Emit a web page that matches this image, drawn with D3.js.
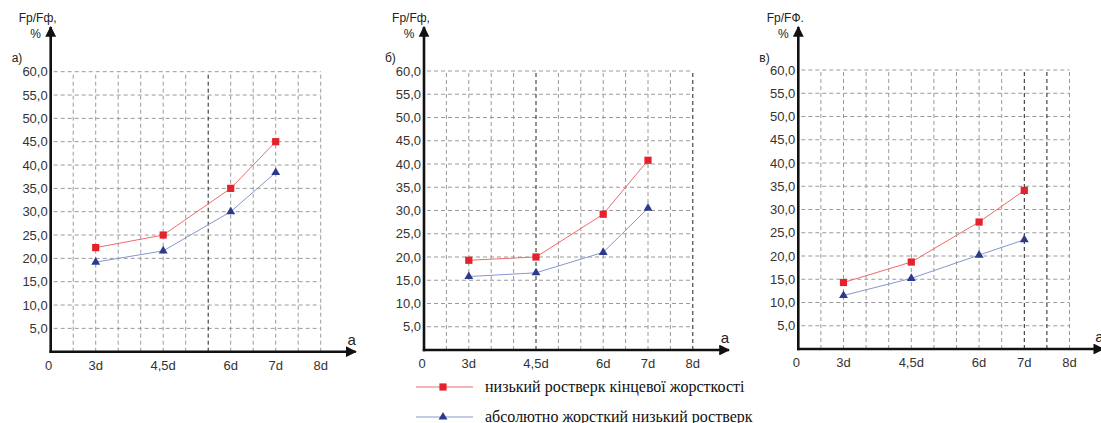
<!DOCTYPE html>
<html><head><meta charset="utf-8">
<script src="https://cdn.jsdelivr.net/npm/d3@7"></script>
<style>
html,body{margin:0;padding:0;background:#fff;}
svg{display:block;}
</style></head>
<body>
<svg id="chart" width="1101" height="423"></svg>
<script>
// ---- data ----
const xCategories = [3, 4.5, 6, 7];
const xTickValues = [2, 3, 4.5, 6, 7, 8];
const xTickLabels = ["0", "3d", "4,5d", "6d", "7d", "8d"];
const yTickValues = [5, 10, 15, 20, 25, 30, 35, 40, 45, 50, 55, 60];
const panelLetters = ["а)", "б)", "в)"];
const yTitles = ["Fp/Fф,", "Fp/Fф,", "Fp/FФ."];
const redA = [22.3, 25.0, 35.0, 45.0];
const blueA = [19.2, 21.6, 30.0, 38.4];
const redB = [19.3, 20.0, 29.2, 40.8];
const blueB = [15.8, 16.6, 21.0, 30.5];
const redC = [14.3, 18.7, 27.3, 34.1];
const blueC = [11.5, 15.2, 20.2, 23.5];
const seriesNames = ["низький ростверк кінцевої жорсткості", "абсолютно жорсткий низький ростверк"];
const darkGridA = [5.5];
const darkGridB = [4.5, 8];
const darkGridC = [7, 7.5];

// ---- layout ----
const panels = [
  {ax: 50.7, y0: 351.7, yTop: 71.7, cw: 22.5, red: redA, blue: blueA, dark: darkGridA, letter: panelLetters[0], title: yTitles[0]},
  {ax: 424, y0: 350, yTop: 71, cw: 22.4, red: redB, blue: blueB, dark: darkGridB, letter: panelLetters[1], title: yTitles[1]},
  {ax: 798.3, y0: 349, yTop: 70, cw: 22.6, red: redC, blue: blueC, dark: darkGridC, letter: panelLetters[2], title: yTitles[2]}
];
const RED_LINE = "#f26a6a", RED_MARK = "#e3222b";
const BLUE_LINE = "#8797cc", BLUE_MARK = "#2b3a8c";
const svg = d3.select("#chart");
const defs = svg.append("defs");
defs.append("marker").attr("id","arr").attr("viewBox","0 0 10 10").attr("refX",9).attr("refY",5)
  .attr("markerWidth",4.2).attr("markerHeight",4.2).attr("markerUnits","strokeWidth").attr("orient","auto")
  .append("path").attr("d","M0,0 L10,5 L0,10 z").attr("fill","#111");

const gridVals = d3.range(2.5, 8.01, 0.5);

panels.forEach(p => {
  const x = d3.scaleLinear().domain([2, 8]).range([p.ax, p.ax + 12 * p.cw]);
  const y = d3.scaleLinear().domain([0, 60]).range([p.y0, p.yTop]);
  const g = svg.append("g");

  // grid
  g.append("g").selectAll("line.h").data(yTickValues).join("line")
    .attr("x1", p.ax + 3).attr("x2", x(8)).attr("y1", d => y(d)).attr("y2", d => y(d))
    .attr("stroke", "#9a9a9a").attr("stroke-width", 1).attr("stroke-dasharray", "4,3");
  g.append("g").selectAll("line.v").data(gridVals).join("line")
    .attr("x1", d => x(d)).attr("x2", d => x(d)).attr("y1", p.y0).attr("y2", y(60))
    .attr("stroke", d => p.dark.includes(d) ? "#222" : "#9a9a9a")
    .attr("stroke-width", 1).attr("stroke-dasharray", "4,3");

  // axes with arrows
  g.append("line").attr("x1", p.ax).attr("x2", p.ax).attr("y1", p.y0 + 1.2).attr("y2", 27)
    .attr("stroke", "#111").attr("stroke-width", 2.6).attr("marker-end", "url(#arr)");
  g.append("line").attr("x1", p.ax - 1.2).attr("x2", p.ax + 305).attr("y1", p.y0).attr("y2", p.y0)
    .attr("stroke", "#111").attr("stroke-width", 2.6).attr("marker-end", "url(#arr)");

  // y tick labels
  g.append("g").selectAll("text").data(yTickValues).join("text")
    .attr("x", p.ax - 3).attr("y", d => y(d) + 4.5).attr("text-anchor", "end")
    .attr("font-family", "Liberation Sans, Arial, sans-serif").attr("font-size", 13).attr("fill", "#333")
    .text(d => d3.format(".1f")(d).replace(".", ","));
  // x tick labels
  g.append("g").selectAll("text").data(xTickValues).join("text")
    .attr("x", (d, i) => i === 0 ? x(d) - 2 : x(d)).attr("y", p.y0 + 18).attr("text-anchor", "middle")
    .attr("font-family", "Liberation Sans, Arial, sans-serif").attr("font-size", 13).attr("fill", "#333")
    .text((d, i) => xTickLabels[i]);

  // titles
  g.append("text").attr("x", p.ax - 13).attr("y", 22).attr("text-anchor", "middle")
    .attr("font-family", "Liberation Sans, Arial, sans-serif").attr("font-size", 12).attr("fill", "#222").text(p.title);
  g.append("text").attr("x", p.ax - 15).attr("y", 38).attr("text-anchor", "middle")
    .attr("font-family", "Liberation Sans, Arial, sans-serif").attr("font-size", 12).attr("fill", "#222").text("%");
  g.append("text").attr("x", p.ax - 39).attr("y", 62)
    .attr("font-family", "Liberation Sans, Arial, sans-serif").attr("font-size", 12).attr("fill", "#222").text(p.letter);
  g.append("text").attr("x", p.ax + 301).attr("y", p.y0 - 7).attr("text-anchor", "middle")
    .attr("font-family", "Liberation Sans, Arial, sans-serif").attr("font-size", 15).attr("fill", "#222").text("a");

  // series
  const line = d3.line().x((d, i) => x(xCategories[i])).y(d => y(d));
  g.append("path").datum(p.red).attr("d", line).attr("fill", "none").attr("stroke", RED_LINE).attr("stroke-width", 1);
  g.append("path").datum(p.blue).attr("d", line).attr("fill", "none").attr("stroke", BLUE_LINE).attr("stroke-width", 1);
  g.append("g").selectAll("path").data(p.red).join("path")
    .attr("d", d3.symbol(d3.symbolSquare, 52))
    .attr("transform", (d, i) => `translate(${x(xCategories[i])},${y(d)})`)
    .attr("fill", RED_MARK);
  g.append("g").selectAll("path").data(p.blue).join("path")
    .attr("d", d3.symbol(d3.symbolTriangle, 34))
    .attr("transform", (d, i) => `translate(${x(xCategories[i])},${y(d)})`)
    .attr("fill", BLUE_MARK);
});

// legend
const lg = svg.append("g");
[[RED_LINE, RED_MARK, d3.symbolSquare, 52, 387], [BLUE_LINE, BLUE_MARK, d3.symbolTriangle, 34, 417]].forEach((s, i) => {
  lg.append("line").attr("x1", 416).attr("x2", 473).attr("y1", s[4]).attr("y2", s[4]).attr("stroke", s[0]).attr("stroke-width", 1.2);
  lg.append("path").attr("d", d3.symbol(s[2], s[3])).attr("transform", `translate(443,${s[4]})`).attr("fill", s[1]);
  lg.append("text").attr("x", 485).attr("y", s[4] + 5)
    .attr("font-family", "Liberation Serif, Times New Roman, serif").attr("font-size", 16).attr("fill", "#111")
    .text(seriesNames[i]);
});
</script>
</body></html>
